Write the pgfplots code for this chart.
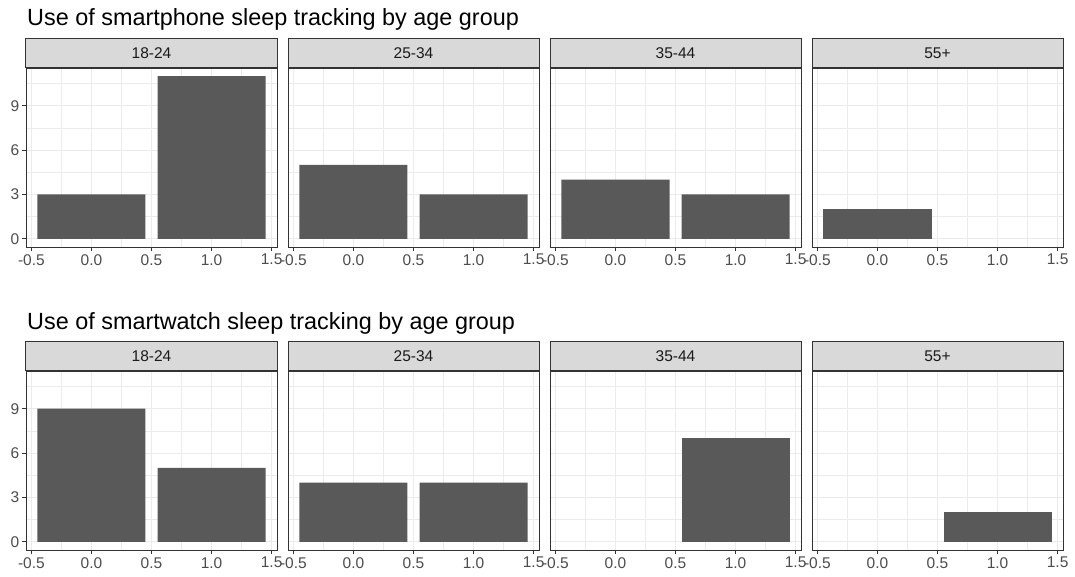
\documentclass[border=0pt]{standalone}
\usepackage{pgfplots}
\pgfplotsset{compat=1.18}
\usepackage{fontspec}
\setmainfont{Liberation Sans}
\definecolor{grey92}{HTML}{EBEBEB}
\definecolor{grey85}{HTML}{D9D9D9}
\definecolor{grey20}{HTML}{333333}
\definecolor{grey30}{HTML}{4D4D4D}
\definecolor{grey10}{HTML}{1A1A1A}
\definecolor{grey35}{HTML}{595959}
\pgfplotsset{
  panel/.style={
    width=251pt, height=179pt, scale only axis,
    xmin=-0.545, xmax=1.545, ymin=-0.55, ymax=11.55,
    xtick={-0.5,0,0.5,1,1.5}, xticklabels={-0.5,0.0,0.5,1.0,1.5},
    minor xtick={-0.25,0.25,0.75,1.25},
    ytick={0,3,6,9}, yticklabels={0,3,6,9}, minor ytick={1.5,4.5,7.5,10.5},
    grid=both,
    major grid style={color=grey92, line width=1pt},
    minor grid style={color=grey92, line width=0.5pt},
    axis line style={grey20, line width=1pt},
    tick style={grey20, line width=1pt},
    tick align=outside, major tick length=4pt, minor tick length=0pt,
    tick pos=left,
    tick label style={font=\fontsize{15.5}{15.5}\selectfont, text=grey30},
    xticklabel style={inner sep=3pt},
    yticklabel style={inner sep=2.5pt},
    ybar, bar width=0.9,
    every axis title shift=0pt,
    title style={at={(rel axis cs:0.5,1)}, anchor=south, fill=grey85, draw=grey20,
      line width=1pt, minimum width=251pt, minimum height=29.5pt, inner sep=0pt,
      font=\fontsize{15.5}{15.5}\selectfont, text=grey10},
  },
  inner/.style={yticklabels={}, ytick style={draw=none}},
  bars/.style={fill=grey35, draw=none},
}
\begin{document}
\begin{tikzpicture}
\useasboundingbox (0,0) rectangle (1075pt,-576pt);
\node[anchor=base west, font=\fontsize{23.4}{23.4}\selectfont, text=black, inner sep=0pt] at (27pt,-25pt) {Use of smartphone sleep tracking by age group};
\node[anchor=base west, font=\fontsize{23.4}{23.4}\selectfont, text=black, inner sep=0pt] at (27pt,-329pt) {Use of smartwatch sleep tracking by age group};
% Row 1
\begin{axis}[panel, at={(26pt,-68pt)}, anchor=north west, title={18-24}]
\addplot[bars] coordinates {(0,3) (1,11)};
\end{axis}
\begin{axis}[panel, inner, at={(288pt,-68pt)}, anchor=north west, title={25-34}]
\addplot[bars] coordinates {(0,5) (1,3)};
\end{axis}
\begin{axis}[panel, inner, at={(550pt,-68pt)}, anchor=north west, title={35-44}]
\addplot[bars] coordinates {(0,4) (1,3)};
\end{axis}
\begin{axis}[panel, inner, at={(812pt,-68pt)}, anchor=north west, title={55+}]
\addplot[bars] coordinates {(0,2)};
\end{axis}
% Row 2
\begin{axis}[panel, at={(26pt,-371pt)}, anchor=north west, title={18-24}]
\addplot[bars] coordinates {(0,9) (1,5)};
\end{axis}
\begin{axis}[panel, inner, at={(288pt,-371pt)}, anchor=north west, title={25-34}]
\addplot[bars] coordinates {(0,4) (1,4)};
\end{axis}
\begin{axis}[panel, inner, at={(550pt,-371pt)}, anchor=north west, title={35-44}]
\addplot[bars] coordinates {(1,7)};
\end{axis}
\begin{axis}[panel, inner, at={(812pt,-371pt)}, anchor=north west, title={55+}]
\addplot[bars] coordinates {(1,2)};
\end{axis}
\end{tikzpicture}
\end{document}
